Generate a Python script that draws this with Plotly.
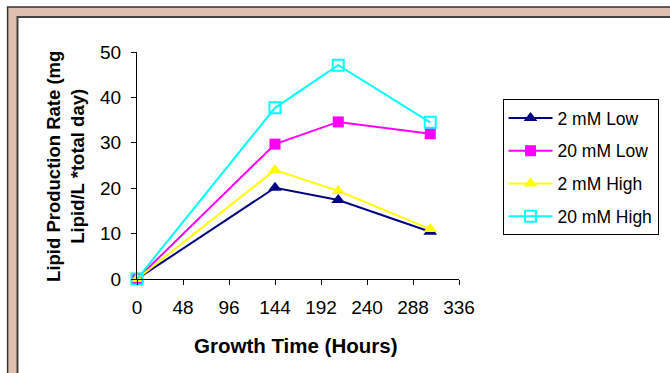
import plotly.graph_objects as go

hours = [0, 144, 210, 306]
low_2mM = [0, 20.1, 17.4, 10.4]
low_20mM = [0, 29.7, 34.6, 32.0]
high_2mM = [0, 24.0, 19.4, 11.0]
high_20mM = [0, 37.7, 47.1, 34.5]
series_names = ["2 mM Low", "20 mM Low", "2 mM High", "20 mM High"]
x_ticks = [0, 48, 96, 144, 192, 240, 288, 336]
y_ticks = [0, 10, 20, 30, 40, 50]

W, H = 670, 373
L, R, T, B = 137, 463, 52, 279  # plot area pixel box


def px(x):
    return (x - L) / (R - L)


def py(y):
    return (B - y) / (B - T)


styles = [
    dict(color="#000080", symbol="triangle-up", size=12, open=False),
    dict(color="#FF00FF", symbol="square", size=11, open=False),
    dict(color="#FFFF00", symbol="triangle-up", size=12, open=False),
    dict(color="#00FFFF", symbol="square-open", size=11, open=True),
]
data = [low_2mM, low_20mM, high_2mM, high_20mM]

fig = go.Figure()
for i, (name, ys, st) in enumerate(zip(series_names, data, styles)):
    fig.add_trace(go.Scatter(
        x=hours, y=ys, name=name, mode="lines+markers", legendgroup=f"g{i}",
        line=dict(color=st["color"], width=2),
        marker=dict(symbol=st["symbol"], size=st["size"], color=st["color"],
                    line=dict(color=st["color"], width=2 if st["open"] else 0)),
        cliponaxis=False,
    ))

fig.update_layout(
    width=W, height=H,
    margin=dict(l=L, r=W - R, t=T, b=H - B),
    paper_bgcolor="white", plot_bgcolor="rgba(0,0,0,0)",
    font=dict(family="Liberation Sans, Arial, sans-serif", color="black", size=17),
    showlegend=True,
    legend=dict(
        x=px(665), y=py(99), xanchor="right", yanchor="top",
        bordercolor="black", borderwidth=1, bgcolor="white",
        font=dict(size=17.5), traceorder="grouped", tracegroupgap=7,
        itemwidth=44,
    ),
    xaxis=dict(
        range=[0, 336], tickvals=x_ticks, ticktext=[str(v) for v in x_ticks],
        showline=True, linecolor="black", linewidth=1, showgrid=False, zeroline=False,
        ticks="outside", ticklen=5, tickcolor="black", tickfont=dict(size=19),
        ticklabelstandoff=6,
    ),
    yaxis=dict(
        range=[0, 50], tickvals=y_ticks,
        showline=True, linecolor="black", linewidth=1, showgrid=False, zeroline=False,
        ticks="outside", ticklen=5, tickcolor="black", tickfont=dict(size=19),
        ticklabelstandoff=6,
    ),
    shapes=[
        dict(type="rect", xref="paper", yref="paper", layer="below",
             x0=px(6), y0=py(7), x1=px(W + 40), y1=py(H + 40),
             fillcolor="#E0BFAF", line=dict(color="#333333", width=1.5)),
        dict(type="rect", xref="paper", yref="paper", layer="below",
             x0=px(16), y0=py(17), x1=px(W + 40), y1=py(H + 40),
             fillcolor="white", line=dict(color="#444444", width=2)),
    ],
    annotations=[
        dict(text="<b>Growth Time (Hours)</b>", xref="paper", yref="paper",
             x=px(298), y=py(345), xanchor="center", yanchor="middle",
             showarrow=False, font=dict(size=20.5)),
        dict(text="<b>Lipid Production Rate (mg<br>Lipid/L *total day)</b>",
             xref="paper", yref="paper", x=px(64), y=py(166),
             xanchor="center", yanchor="middle", textangle=-90,
             showarrow=False, font=dict(size=18.5)),
    ],
)

fig.write_html("out.html")
